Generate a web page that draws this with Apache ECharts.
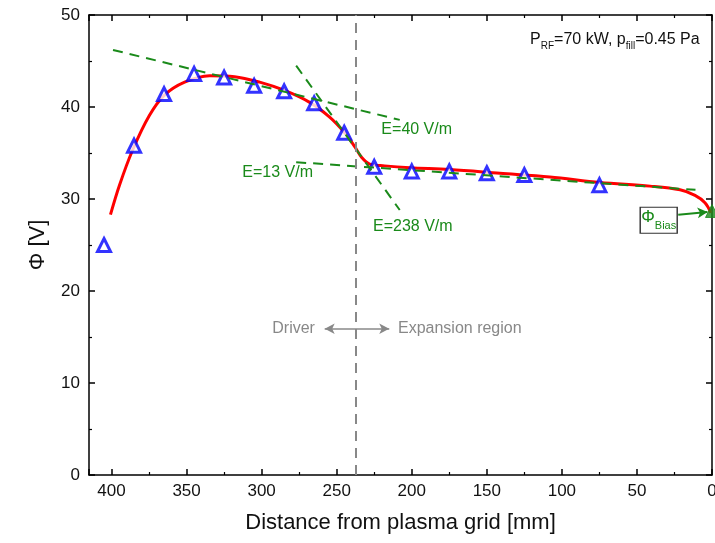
<!DOCTYPE html>
<html><head><meta charset="utf-8">
<script src="https://cdn.jsdelivr.net/npm/echarts@6/dist/echarts.min.js"></script>
<style>html,body{margin:0;padding:0;background:#fff}#c{width:715px;height:543px}</style>
</head><body><div id="c"></div>
<script>
// measured probe data
const distMM = [405,385,365,345,325,305,285,265,245,225,200,175,150,125,75];
const phiV   = [25.0,35.8,41.4,43.6,43.2,42.3,41.7,40.4,37.2,33.5,33.0,33.0,32.8,32.6,31.5];
// bias potential at plasma grid
const biasDist = [0];
const biasPhi  = [28.7];
// fit curve
const fitDist = [400.7,394.7,386,374.7,364.7,351.3,334.7,318,301.3,284.7,268,254.7,244.7,238,233.3,228,218,201.3,174.7,141.3,108,74.7,41.3,21.3,11.3,4.7,0.7];
const fitPhi  = [28.3,31.5,35.3,39.1,41.3,42.7,43.4,43.3,42.7,41.8,40.5,38.9,37.2,35.7,34.5,33.8,33.6,33.4,33.2,32.8,32.4,31.8,31.4,31.0,30.4,29.6,28.5];
// field lines (endpoints)
const lineE40  = [[399,46.2],[208,38.6]];
const lineE238 = [[277,44.5],[208,28.8]];
const lineE13  = [[277,34.0],[11,31.0]];
const driverBoundary = 237;
const xTicks = {min:0, max:415, interval:50};
const yTicks = {min:0, max:50, interval:10};

const GREEN = '#1a8a1a';
const FONT = 'Liberation Sans, Arial, sans-serif';
const chart = echarts.init(document.getElementById('c'), null, {renderer:'canvas'});

function txt(x, y, text, color, size, extra){
  return Object.assign({coord:[x,y], symbol:'circle', symbolSize:0,
    label:{show:true, position:'inside', formatter:text, color:color, fontSize:size, fontFamily:FONT}}, extra||{});
}

const axisCommon = {
  axisLine:{show:true, onZero:false, lineStyle:{color:'#000', width:1.5}},
  axisTick:{show:true, inside:true, length:6, lineStyle:{color:'#000', width:1.5}},
  minorTick:{show:true, splitNumber:2, length:3, lineStyle:{color:'#000', width:1.2}},
  splitLine:{show:false}
};

chart.setOption({
  animation:false,
  backgroundColor:'#fff',
  grid:{left:89, right:3, top:15, bottom:68, containLabel:false, outerBoundsMode:'none'},
  xAxis:[
    Object.assign({type:'value', min:xTicks.min, max:xTicks.max, interval:xTicks.interval, inverse:true, position:'bottom',
      name:'Distance from plasma grid [mm]', nameLocation:'middle', nameGap:37,
      nameTextStyle:{fontSize:22, color:'#111', fontFamily:FONT},
      axisLabel:{fontSize:17, color:'#111', margin:8, fontFamily:FONT, showMaxLabel:false}}, axisCommon),
    Object.assign({type:'value', min:xTicks.min, max:xTicks.max, interval:xTicks.interval, inverse:true, position:'top',
      axisLabel:{show:false}}, axisCommon)
  ],
  yAxis:[
    Object.assign({type:'value', min:yTicks.min, max:yTicks.max, interval:yTicks.interval, position:'left',
      name:'\u03A6 [V]', nameLocation:'middle', nameGap:40, nameRotate:90,
      nameTextStyle:{fontSize:22, color:'#111', fontFamily:FONT},
      axisLabel:{fontSize:17, color:'#111', margin:9, fontFamily:FONT}}, axisCommon),
    Object.assign({type:'value', min:yTicks.min, max:yTicks.max, interval:yTicks.interval, position:'right',
      axisLabel:{show:false}}, axisCommon)
  ],
  series:[
    {
      type:'line', name:'guides', data:[], silent:true,
      markLine:{
        silent:true, symbol:['none','none'], animation:false,
        label:{show:false},
        data:[
          [{coord:lineE40[0], lineStyle:{color:GREEN, width:2, type:[10,7]}},{coord:lineE40[1]}],
          [{coord:lineE238[0], lineStyle:{color:GREEN, width:2, type:[10,7]}},{coord:lineE238[1]}],
          [{coord:lineE13[0], lineStyle:{color:GREEN, width:2, type:[10,7]}},{coord:lineE13[1]}],
          [{coord:[driverBoundary,0], lineStyle:{color:'#888', width:2, type:[10,7]}},{coord:[driverBoundary,50]}]
        ]
      }
    },
    {
      type:'line', name:'fit', data:fitDist.map((d,i)=>[d,fitPhi[i]]), smooth:0.35, showSymbol:false,
      lineStyle:{color:'#ff0000', width:3}, z:3
    },
    {
      type:'scatter', name:'probe', data:distMM.map((d,i)=>[d,phiV[i]]), symbol:'triangle', symbolSize:13,
      itemStyle:{color:'#fff', borderColor:'#0000ff', borderWidth:3}, z:4
    },
    {
      type:'scatter', name:'bias', data:biasDist.map((d,i)=>[d,biasPhi[i]]), symbol:'triangle', symbolSize:13,
      itemStyle:{color:GREEN, borderColor:GREEN, borderWidth:1}, z:4,
      markLine:{
        silent:true, symbol:['none','arrow'], symbolSize:[8,10],
        label:{show:false},
        data:[
          [{coord:[22.5,28.3], lineStyle:{color:GREEN, width:2, type:'solid'}},{coord:[3,28.6]}],
          [{coord:[258,15.9], symbol:'arrow', lineStyle:{color:'#888', width:1.5, type:'solid'}},{coord:[215,15.9]}]
        ]
      },
      markPoint:{
        silent:true,
        data:[
          {coord:[35.5,27.7], symbol:'rect', symbolSize:[37,26],
            itemStyle:{color:'#fff', borderColor:'#333', borderWidth:1.2},
            label:{show:true, position:'inside', formatter:'{p|\u03A6}{s|Bias}',
              rich:{p:{fontSize:17, color:GREEN, fontFamily:FONT, verticalAlign:'top', padding:[0,0,5,0]},
                    s:{fontSize:11, color:GREEN, fontFamily:FONT, verticalAlign:'bottom', padding:[7,0,0,0]}}}},
          txt(196.7,37.5,'E=40 V/m',GREEN,16),
          txt(289.3,32.9,'E=13 V/m',GREEN,16),
          txt(199.3,27.0,'E=238 V/m',GREEN,16),
          txt(278.7,15.9,'Driver','#888',16),
          txt(168,15.9,'Expansion region','#888',16),
          {coord:[64.7,47.1], symbol:'circle', symbolSize:0,
            label:{show:true, position:'inside',
              formatter:'{n|P}{s|RF}{n|=70 kW, p}{s|fill}{n|=0.45 Pa}',
              rich:{n:{fontSize:16, color:'#111', fontFamily:FONT, verticalAlign:'top', padding:[0,0,4,0]},
                    s:{fontSize:10, color:'#111', fontFamily:FONT, verticalAlign:'bottom', padding:[7,0,0,0]}}}}
        ]
      }
    }
  ]
});
</script></body></html>
